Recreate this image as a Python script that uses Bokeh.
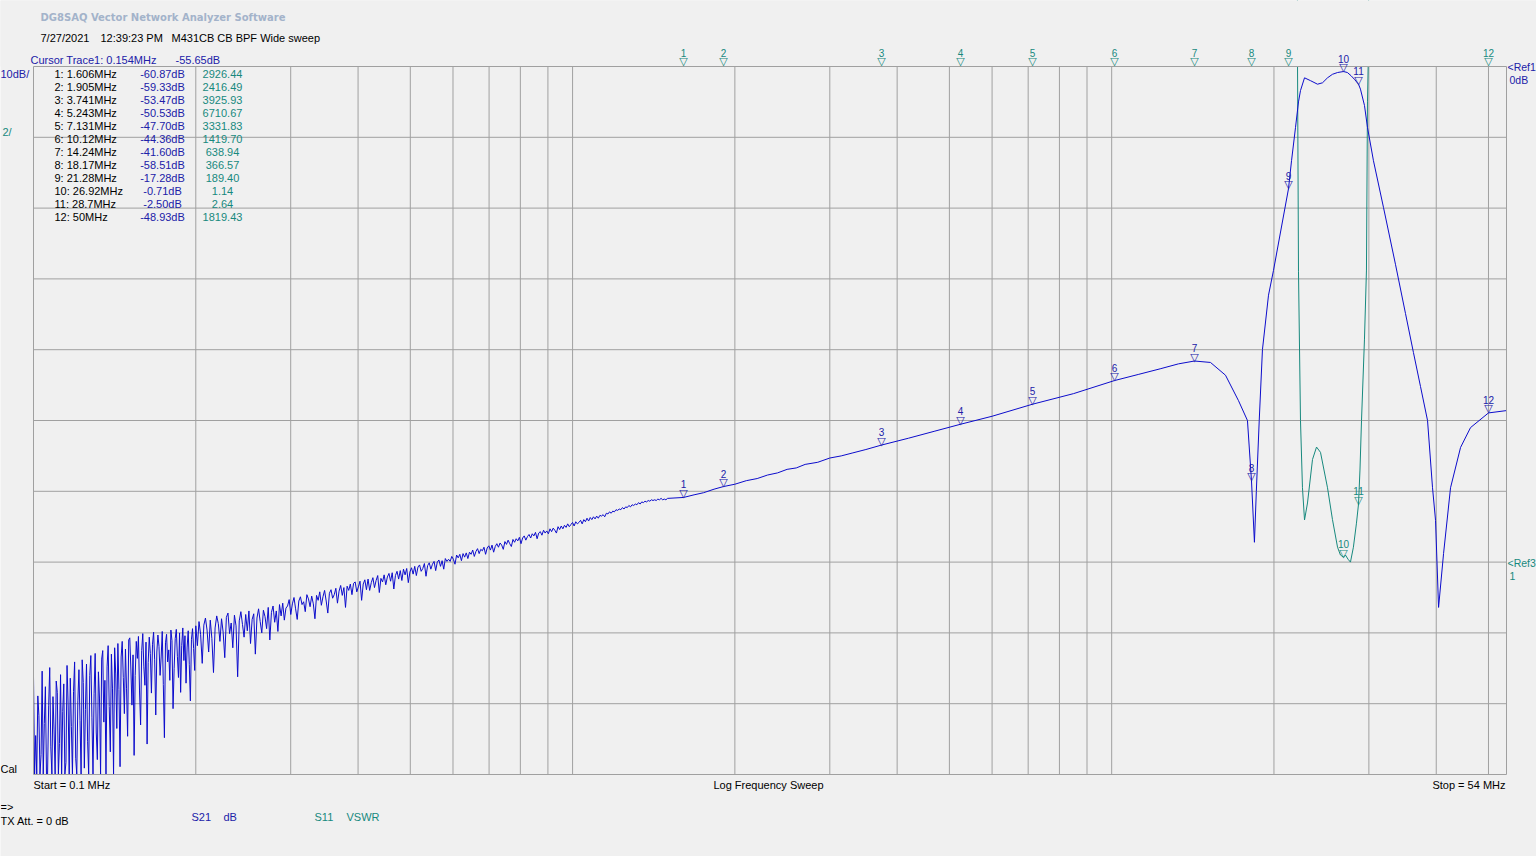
import numpy as np
from bokeh.plotting import figure
from bokeh.models import Range1d, Label, LabelSet, ColumnDataSource, BoxAnnotation
from bokeh.core.properties import value
from bokeh.embed import file_html
from bokeh.resources import INLINE

# ---------------- sweep / scale settings ----------------
F_START = 0.1
F_STOP = 54.0
DB_TOP, DB_BOTTOM = 0.0, -100.0          # Ref1 = 0 dB, 10 dB/div
VSWR_BOTTOM, VSWR_TOP = -5.0, 15.0       # Ref3 = 1, 2/div

freq_grid = [0.2, 0.3, 0.4, 0.5, 0.6, 0.7, 0.8, 0.9, 1, 2, 3, 4, 5, 6, 7, 8, 9, 10, 20, 30, 40, 50]
db_grid = [-10, -20, -30, -40, -50, -60, -70, -80, -90]

# ---------------- markers ----------------
marker_f = [1.606, 1.905, 3.741, 5.243, 7.131, 10.12, 14.24, 18.17, 21.28, 26.92, 28.7, 50.0]
marker_f_text = ["1.606MHz", "1.905MHz", "3.741MHz", "5.243MHz", "7.131MHz", "10.12MHz",
                 "14.24MHz", "18.17MHz", "21.28MHz", "26.92MHz", "28.7MHz", "50MHz"]
marker_s21_db = [-60.87, -59.33, -53.47, -50.53, -47.70, -44.36, -41.60, -58.51, -17.28, -0.71, -2.50, -48.93]
marker_s11_vswr = [2926.44, 2416.49, 3925.93, 6710.67, 3331.83, 1419.70, 638.94, 366.57, 189.40, 1.14, 2.64, 1819.43]

cursor_f = 0.154
cursor_db = -55.65

# ---------------- S21 trace (dB) ----------------
# noisy part 0.1 - 0.2 MHz (sweep points)
s21_lf_db = [
    -86.2, -100.0, -94.5, -100.0, -88.9, -91.7, -100.0, -97.2, -85.4, -100.0,
    -92.8, -87.6, -100.0, -100.0, -90.3, -84.9, -96.1, -100.0, -89.0, -93.7,
    -100.0, -86.8, -88.4, -100.0, -95.6, -85.9, -100.0, -91.1, -87.2, -100.0,
    -98.3, -84.6, -90.0, -100.0, -86.4, -93.2, -100.0, -88.3, -84.1, -97.7,
    -100.0, -89.6, -85.2, -92.4, -100.0, -83.8, -87.0, -99.1, -90.8, -84.4,
    -95.3, -100.0, -86.0, -83.2, -91.9, -100.0, -88.6, -82.9, -94.0, -97.9,
    -85.5, -89.2, -100.0, -83.7, -82.5, -92.6, -86.7, -100.0, -84.8, -81.8,
    -90.4, -96.8, -83.0, -87.8, -100.0, -82.1, -85.8, -93.5, -81.5, -88.0,
    -98.9, -83.4, -81.2, -86.3, -91.4,
    -82.3, -87.9, -94.6, -81.0, -80.7, -85.1, -90.2, -83.1, -97.3, -86.0,
    -81.2, -83.6, -80.5, -88.2, -93.0, -82.5, -80.1, -84.8, -87.4, -81.3,
    -95.7, -84.2, -80.6, -82.9, -88.5, -81.6, -79.9, -83.8, -91.6, -82.7,
    -80.3, -81.9, -86.0, -83.4, -79.8, -87.3, -94.8, -81.4, -80.2, -84.1,
    -82.4, -86.7, -79.6, -81.1, -90.7, -85.0, -80.8, -79.5, -83.3, -86.3,
    -80.0, -88.4, -81.8, -79.3, -83.9, -80.4, -87.1, -82.0, -79.7, -84.5,
    -89.6, -80.9, -79.4, -82.2, -85.3,
]
# noisy part 0.2 - 1.5 MHz (sweep points)
s21_mf_db = [
    # 0.2 - 0.3 MHz
    -79.0, -81.8, -78.4, -80.2, -84.3, -78.9, -77.9, -79.6, -82.7, -78.2,
    -80.8, -85.6, -79.3, -77.6, -78.7, -81.2, -78.0, -79.9, -83.5, -77.8,
    -77.2, -80.1, -78.6, -82.1, -77.5, -79.0, -86.2, -78.3, -77.0, -78.8,
    -80.6, -77.4, -79.7, -76.9, -81.5, -78.1, -77.3, -83.0, -77.9, -76.6,
    -78.4, -80.0, -76.8, -77.7, -79.4, -76.4, -81.0, -77.1, -76.2, -78.5,
    -76.9, -79.8, -76.0, -77.6, -75.8, -78.2, -76.5,
    # 0.3 - 0.6 MHz
    -76.2, -75.3, -77.4, -75.9, -75.0, -76.6, -78.1, -75.5, -74.9, -76.0,
    -75.6, -77.0, -74.6, -75.2, -76.3, -74.8, -75.9, -78.0, -74.7, -75.4,
    -74.2, -76.1, -74.9, -74.0, -75.5, -77.2, -74.4, -73.9, -75.1, -74.6,
    -73.7, -75.8, -74.1, -73.3, -74.7, -73.6, -76.4, -73.4, -74.0, -73.1,
    -74.6, -73.0, -72.8, -74.2, -73.5, -72.7, -75.4, -73.1, -72.5, -73.9,
    -72.4, -74.0, -72.9, -72.2, -73.6, -72.6, -71.9, -74.3, -72.3, -72.8,
    -71.8, -73.2, -72.1, -71.6, -72.7, -71.5, -73.8, -71.9, -71.3, -72.4,
    -71.2, -72.6, -71.0, -71.8, -70.9, -72.9, -71.4, -70.8, -71.7, -70.6,
    -71.9, -70.7, -70.4, -71.3, -70.9, -70.2, -72.0, -70.5, -70.1, -71.0,
    -70.3, -69.9, -71.2, -70.0, -69.7, -70.6, -69.8, -71.0, -69.5, -69.9,
    -69.6,
    # 0.6 - 1.1 MHz
    -69.9, -69.2, -69.6, -70.3, -69.0, -69.4, -68.9, -69.8, -68.8, -69.3,
    -68.7, -69.5, -68.6, -68.9, -68.3, -69.2, -68.5, -68.1, -68.8, -68.2,
    -68.4, -67.9, -68.9, -68.0, -67.7, -68.3, -67.6, -68.6, -67.8, -67.4,
    -67.9, -67.3, -67.6, -68.2, -67.1, -67.5, -66.9, -67.4, -67.8, -66.8,
    -67.2, -66.7, -67.0, -66.5, -67.4, -66.6, -66.3, -66.9, -66.4, -66.1,
    -66.6, -66.0, -66.3, -65.8, -66.7, -65.9, -65.7, -66.2, -65.5, -65.9,
    -65.6, -66.0, -65.3, -65.7, -65.2, -65.5, -65.9, -65.0, -65.4, -64.9,
    -65.3, -64.8, -65.1, -64.6, -65.0, -64.7, -64.4, -64.9, -64.3, -64.6,
    -64.4, -64.1, -64.6, -64.0, -64.3, -63.8, -64.2, -63.7, -64.0, -63.6,
    -63.9, -63.5, -63.8, -63.4,
    # 1.1 - 1.5 MHz
    -63.5, -63.3, -63.6, -63.1, -63.2, -62.9, -63.1, -62.8, -62.9, -62.6,
    -62.7, -62.5, -62.6, -62.3, -62.5, -62.2, -62.3, -62.0, -62.2, -61.9,
    -62.0, -61.8, -61.9, -61.6, -61.8, -61.5, -61.6, -61.4, -61.5, -61.3,
    -61.4, -61.2, -61.3, -61.2, -61.3, -61.1, -61.2, -61.0, -61.2, -61.1,
    -61.2, -61.0,
]
s21_lf_f = np.geomspace(0.1, 0.2, len(s21_lf_db), endpoint=False)
s21_mf_f = np.geomspace(0.2, 1.5, len(s21_mf_db))

s21_f = [1.606, 1.68, 1.75, 1.83, 1.905, 2.0, 2.1, 2.2, 2.3, 2.4,
         2.5, 2.6, 2.7, 2.85, 3.0, 3.15, 3.3, 3.5, 3.741, 4.2,
         4.7, 5.243, 6.0, 7.131, 8.5, 10.12, 11.2, 12.3, 13.3,
         14.24, 15.25, 16.26, 17.19, 17.86, 18.17, 18.40, 18.55, 18.78, 19.04,
         19.54, 19.96, 21.28, 21.56, 21.93, 22.21, 22.40, 22.79, 23.38, 24.09,
         24.61, 25.14, 25.68, 26.24, 26.92, 27.37, 27.8, 28.2, 28.7, 28.94,
         29.44, 29.82, 30.59, 31.93, 33.62, 35.08, 36.29, 37.40, 38.54, 39.37,
         39.88, 40.40, 41.27, 42.52, 44.38, 46.31, 50.0, 54.0]
s21_db = [-60.87, -60.5, -60.2, -59.7, -59.33, -59.0, -58.5, -58.2, -57.7, -57.4,
          -56.9, -56.7, -56.2, -55.9, -55.3, -55.0, -54.6, -54.1, -53.47, -52.5,
          -51.5, -50.53, -49.4, -47.70, -46.2, -44.36, -43.5, -42.7, -42.0,
          -41.60, -41.8, -43.6, -47.2, -50.0, -58.51, -67.2, -60.0, -50.0, -40.0,
          -32.3, -28.8, -17.28, -13.3, -8.6, -5.0, -3.4, -1.6, -2.0, -2.5,
          -2.3, -1.6, -1.1, -0.85, -0.71, -0.85, -1.3, -1.8, -2.50, -3.2,
          -5.5, -8.6, -13.3, -19.9, -28.0, -34.9, -40.4, -45.2, -50.0, -59.5,
          -64.1, -76.4, -68.8, -59.5, -53.8, -51.0, -48.93, -48.6]

# ---------------- S11 trace (VSWR) ----------------
s11_f = [0.1, 1.606, 1.905, 3.741, 5.243, 7.131, 10.12, 14.24, 18.17, 21.28,
         22.05, 22.12, 22.21, 22.40, 22.59, 22.79, 23.08, 23.58, 23.99, 24.40,
         25.14, 25.68, 26.24, 26.57, 26.92, 27.14, 27.45, 27.73, 28.08, 28.45,
         28.7, 28.88, 29.07, 29.44, 29.69, 29.82, 29.95, 30.3, 35.0, 45.0,
         50.0, 54.0]
s11_vswr = [2500.0, 2926.44, 2416.49, 3925.93, 6710.67, 3331.83, 1419.70, 638.94, 366.57, 189.40,
            30.0, 15.0, 9.2, 5.0, 3.1, 2.19, 2.67, 3.9, 4.25, 4.1,
            3.1, 2.2, 1.42, 1.2, 1.14, 1.2, 1.08, 1.0, 1.42, 2.1,
            2.64, 3.6, 5.0, 7.3, 9.25, 14.0, 15.5, 60.0, 500.0, 2500.0,
            1819.43, 1200.0]

# ---------------- colours / fonts ----------------
BG = "#f0f0f0"
GRID = "#a0a0a0"
TRACE_BLUE = "#0c0ccc"
BLUE_TEXT = "#2020a8"
TEAL = "#17897e"
HEADER = "#a3b3ca"
FONT = "Liberation Sans"

# graph area in picture pixels: x 33..1506, y 66..774
FX0, FX1, FY0, FY1 = 33.0, 1506.0, 66.0, 774.0
W, H = 1536, 856
LOGSPAN = np.log10(F_STOP / F_START)


def fx(xr):
    return F_START * 10 ** ((xr - FX0) / (FX1 - FX0) * LOGSPAN)


def fy(yr):
    return DB_TOP - (yr - FY0) / (FY1 - FY0) * (DB_TOP - DB_BOTTOM)


def vy(yr):
    return VSWR_BOTTOM + (FY1 - yr) / (FY1 - FY0) * (VSWR_TOP - VSWR_BOTTOM)


p = figure(width=W, height=H, x_axis_type="log",
           x_range=Range1d(fx(0), fx(W)), y_range=Range1d(fy(H), fy(0)),
           x_axis_location=None, y_axis_location=None,
           toolbar_location=None, output_backend="svg",
           min_border=0,
           background_fill_color=BG, border_fill_color=BG,
           outline_line_color=None)
p.extra_y_ranges = {"vswr": Range1d(vy(H), vy(0))}
p.grid.visible = False

# graticule
p.segment(x0=freq_grid, y0=[DB_BOTTOM] * len(freq_grid), x1=freq_grid, y1=[DB_TOP] * len(freq_grid),
          line_color=GRID, line_width=1)
p.segment(x0=[F_START] * len(db_grid), y0=db_grid, x1=[F_STOP] * len(db_grid), y1=db_grid,
          line_color=GRID, line_width=1)

# traces
p.line(s11_f, s11_vswr, y_range_name="vswr", line_color=TEAL, line_width=1)
p.line(list(s21_lf_f) + list(s21_mf_f) + s21_f, s21_lf_db + s21_mf_db + s21_db,
       line_color=TRACE_BLUE, line_width=1)

# values above the screen are not drawn: mask everything above the graph area
p.add_layout(BoxAnnotation(bottom=DB_TOP, top=fy(-40), left=fx(-40), right=fx(W + 40),
                           fill_color=BG, fill_alpha=1.0, line_alpha=0))
p.add_layout(BoxAnnotation(left=F_START, right=F_STOP, bottom=DB_BOTTOM, top=DB_TOP,
                           fill_alpha=0, line_color=GRID, line_width=1, line_alpha=1.0))


def put(xr, yr, text, color="black", size="11px", font=FONT, align="left", style="normal"):
    p.add_layout(Label(x=fx(xr), y=fy(yr), text=text, text_color=color, text_font_size=size,
                       text_font=font, text_font_style=style, text_align=align,
                       text_baseline="middle"))


# header
put(40, 17, "DG8SAQ Vector Network Analyzer Software", HEADER, "10px", "DejaVu Sans", style="bold")
put(40, 37, "7/27/2021")
put(100, 37, "12:39:23 PM")
put(171, 37, "M431CB CB BPF Wide sweep")
put(30, 59, f"Cursor Trace1:  {cursor_f:.3f}MHz", BLUE_TEXT)
put(175, 59, f"{cursor_db:.2f}dB", BLUE_TEXT)

# scale labels
put(0, 73, "10dB/", BLUE_TEXT)
put(2, 131, "2/", TEAL)
put(0, 768, "Cal")
put(1507, 66, "<Ref1", BLUE_TEXT, "10.5px")
put(1509, 79, "0dB", BLUE_TEXT, "10.5px")
put(1507, 562, "<Ref3", TEAL, "10.5px")
put(1509, 575, "1", TEAL, "10.5px")

# marker table
for k in range(len(marker_f)):
    yr = 73 + 13 * k
    put(54, yr, f"{k + 1}: {marker_f_text[k]}")
    put(162, yr, f"{marker_s21_db[k]:.2f}dB", BLUE_TEXT, align="center")
    put(222, yr, f"{marker_s11_vswr[k]:.2f}", TEAL, align="center")

# bottom texts
put(33, 784, "Start = 0.1 MHz")
put(768, 784, "Log Frequency Sweep", align="center")
put(1505, 784, "Stop = 54 MHz", align="right")
put(0, 806, "=>")
put(0, 820, "TX Att.  = 0 dB")
put(191, 816, "S21", BLUE_TEXT)
put(223, 816, "dB", BLUE_TEXT)
put(314, 816, "S11", TEAL)
put(346, 816, "VSWR", TEAL)

# ---------------- marker glyphs ----------------
TRI = "\u25bd"
nums = [str(i + 1) for i in range(len(marker_f))]


def marker_set(src, color, y_range_name="default"):
    p.add_layout(LabelSet(x="x", y="y", text="t", source=src, y_offset=4, text_align="center",
                          text_baseline="middle", text_font=value("DejaVu Sans"),
                          text_font_size="11px", text_color=color, y_range_name=y_range_name))
    p.add_layout(LabelSet(x="x", y="y", text="n", source=src, y_offset=13, text_align="center",
                          text_baseline="middle", text_font=value(FONT),
                          text_font_size="10px", text_color=color, y_range_name=y_range_name))


marker_set(ColumnDataSource(dict(x=marker_f, y=marker_s21_db, n=nums, t=[TRI] * len(nums))), BLUE_TEXT)

on_idx = [i for i, v in enumerate(marker_s11_vswr) if v <= VSWR_TOP]
top_idx = [i for i, v in enumerate(marker_s11_vswr) if v > VSWR_TOP]
marker_set(ColumnDataSource(dict(x=[marker_f[i] for i in on_idx], y=[marker_s11_vswr[i] for i in on_idx],
                                 n=[nums[i] for i in on_idx], t=[TRI] * len(on_idx))), TEAL, "vswr")
# S11 markers above the screen are pinned to the top edge
marker_set(ColumnDataSource(dict(x=[marker_f[i] for i in top_idx], y=[fy(65)] * len(top_idx),
                                 n=[nums[i] for i in top_idx], t=[TRI] * len(top_idx))), TEAL)

open("out.html", "w").write(file_html(p, INLINE, title="DG8SAQ VNWA"))
